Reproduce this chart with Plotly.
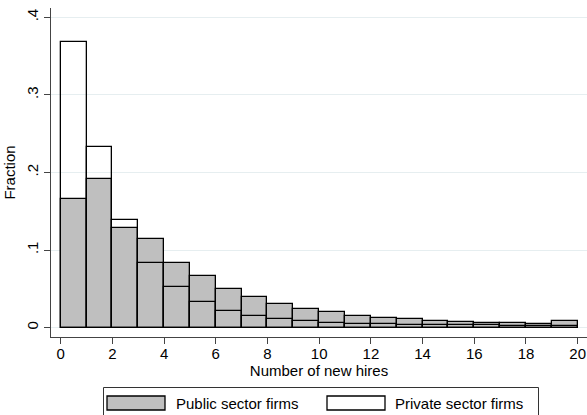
import plotly.graph_objects as go

# Histogram of new hires per firm, one-unit bins from 0 to 20
bin_left = list(range(20))
public_frac = [0.166, 0.191, 0.128, 0.114, 0.084, 0.067, 0.0495, 0.040, 0.0306, 0.0247,
               0.0205, 0.0153, 0.0131, 0.0117, 0.0091, 0.0074, 0.0065, 0.0056, 0.0047, 0.0082]
private_frac = [0.368, 0.2335, 0.1385, 0.0838, 0.0525, 0.0327, 0.0219, 0.0155, 0.0108, 0.0080,
                0.0065, 0.0050, 0.0043, 0.0031, 0.0030, 0.0032, 0.0030, 0.0026, 0.0026, 0.0026]
x_ticks = list(range(0, 21, 2))
y_ticks = [0, 0.1, 0.2, 0.3, 0.4]
y_ticktext = ["0", ".1", ".2", ".3", ".4"]

FONT = "Liberation Sans, Arial, sans-serif"
W, H = 587, 415
ML, MR, MT, MB = 51, 0, 8, 78
PW, PH = W - ML - MR, H - MT - MB

centers = [b + 0.5 for b in bin_left]

fig = go.Figure()
fig.add_trace(go.Bar(
    x=centers, y=public_frac, width=1, name="Public sector firms",
    marker=dict(color="#bfbfbf", line=dict(color="black", width=1.3)),
))
fig.add_trace(go.Bar(
    x=centers, y=private_frac, width=1, name="Private sector firms",
    marker=dict(color="rgba(0,0,0,0)", line=dict(color="black", width=1.3)),
))


def px_x(p):
    return (p - ML) / PW


def px_y(p):
    return (H - MB - p) / PH


# Legend drawn as a boxed key below the axes
shapes = [
    dict(type="rect", xref="paper", yref="paper",
         x0=px_x(103.5), x1=px_x(538.5), y0=px_y(418), y1=px_y(387.5),
         line=dict(color="#333333", width=1), fillcolor="white", layer="above"),
    dict(type="rect", xref="paper", yref="paper",
         x0=px_x(107), x1=px_x(165), y0=px_y(410), y1=px_y(396),
         line=dict(color="black", width=1.3), fillcolor="#bfbfbf", layer="above"),
    dict(type="rect", xref="paper", yref="paper",
         x0=px_x(327), x1=px_x(385), y0=px_y(410), y1=px_y(396),
         line=dict(color="black", width=1.3), fillcolor="white", layer="above"),
]
annotations = [
    dict(text="Public sector firms", xref="paper", yref="paper",
         x=px_x(174), y=px_y(403), xanchor="left", yanchor="middle", showarrow=False,
         font=dict(family=FONT, size=15, color="black")),
    dict(text="Private sector firms", xref="paper", yref="paper",
         x=px_x(393), y=px_y(403), xanchor="left", yanchor="middle", showarrow=False,
         font=dict(family=FONT, size=15, color="black")),
]

fig.update_layout(
    width=W, height=H,
    margin=dict(l=ML, r=MR, t=MT, b=MB, pad=0),
    barmode="overlay", bargap=0,
    showlegend=False,
    plot_bgcolor="white", paper_bgcolor="white",
    font=dict(family=FONT, size=15, color="black"),
    shapes=shapes, annotations=annotations,
    xaxis=dict(
        range=[-0.375, 20.36], tickvals=x_ticks,
        showgrid=False, zeroline=False,
        showline=True, linecolor="#444444", linewidth=1,
        ticks="outside", ticklen=6, tickcolor="#444444",
        ticklabelstandoff=-3,
        tickfont=dict(size=15),
        title=dict(text="Number of new hires", font=dict(size=15), standoff=0),
    ),
    yaxis=dict(
        range=[-0.012, 0.412], tickvals=y_ticks, ticktext=y_ticktext,
        tickangle=-90,
        showgrid=True, gridcolor="#e6eef0", gridwidth=1, zeroline=False,
        showline=True, linecolor="#444444", linewidth=1,
        ticks="outside", ticklen=6, tickcolor="#444444",
        tickfont=dict(size=15),
        title=dict(text="Fraction", font=dict(size=15), standoff=4),
    ),
)

fig.write_html("out.html")
